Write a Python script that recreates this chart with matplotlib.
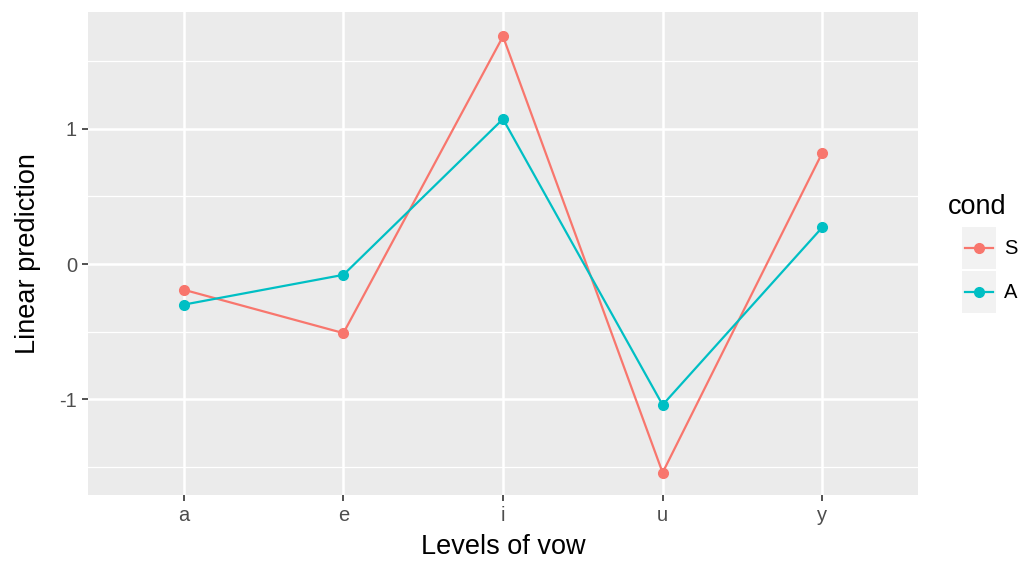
import matplotlib
matplotlib.use("Agg")
import matplotlib.pyplot as plt
from matplotlib.lines import Line2D
from matplotlib.patches import Rectangle

vowels = ["a", "e", "i", "u", "y"]
cond_labels = ["S", "A"]
s_values = [-0.19, -0.51, 1.68, -1.54, 0.82]
a_values = [-0.30, -0.08, 1.07, -1.04, 0.27]
colors = ["#F8766D", "#00BFC4"]
y_ticks = [-1, 0, 1]
y_minor = [-1.5, -0.5, 0.5, 1.5]

plt.rcParams['font.family'] = ['Liberation Sans', 'DejaVu Sans']

fig = plt.figure(figsize=(10.26, 5.61), dpi=100)
ax = fig.add_axes([88/1026, 1-495/561, (918-88)/1026, (495-12)/561])
ax.set_facecolor("#EBEBEB")
for s in ax.spines.values():
    s.set_visible(False)

x = list(range(len(vowels)))
for yv in y_minor:
    ax.axhline(yv, color="white", lw=0.9, zorder=0)
for yv in y_ticks:
    ax.axhline(yv, color="white", lw=1.8, zorder=0)
for xv in x:
    ax.axvline(xv, color="white", lw=1.8, zorder=0)

for vals, c in zip([s_values, a_values], colors):
    ax.plot(x, vals, color=c, lw=1.6, marker="o", ms=7, zorder=3)

ax.set_xlim(-0.6, 4.6)
ax.set_ylim(-1.705, 1.86)
ax.set_xticks(x)
ax.set_xticklabels(vowels)
ax.set_yticks(y_ticks)
ax.set_yticklabels([str(t) for t in y_ticks])
ax.tick_params(axis="both", colors="#333333", length=4, width=1.2, labelsize=14.5,
               labelcolor="#4D4D4D", pad=4)
ax.set_xlabel("Levels of vow", fontsize=19.5, color="black")
ax.set_ylabel("Linear prediction", fontsize=19.5, color="black")
ax.xaxis.set_label_coords(0.5, (495-534)/483)
ax.yaxis.set_label_coords((41-88)/830, 0.5)

# legend
fig.text(948/1026, 1-207/561, "cond", fontsize=19.5, va="center", ha="left")
for i, (lab, c) in enumerate(zip(cond_labels, colors)):
    yc = 248 + i*44
    fig.patches.append(Rectangle((962/1026, 1-(yc+21)/561), 34/1026, 42/561,
                                 transform=fig.transFigure, facecolor="#F2F2F2",
                                 edgecolor="none"))
    fig.lines.append(Line2D([965/1026, 993/1026], [1-yc/561, 1-yc/561],
                            transform=fig.transFigure, color=c, lw=1.6))
    fig.lines.append(Line2D([979/1026], [1-yc/561], transform=fig.transFigure,
                            color=c, marker="o", ms=7))
    fig.text(1004/1026, 1-yc/561, lab, fontsize=14.5, va="center", ha="left", color="black")

fig.savefig("out.png", dpi=100)
